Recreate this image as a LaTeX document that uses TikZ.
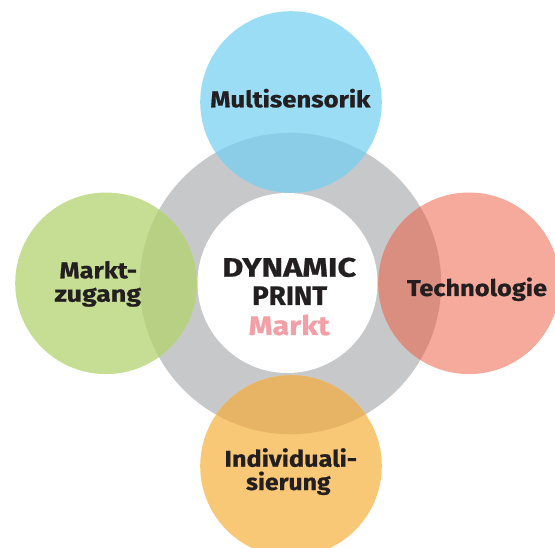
\documentclass[tikz,border=0pt]{standalone}
\usepackage{graphicx}
\usepackage{fontspec}
\setmainfont{Fira Sans}[BoldFeatures={FakeBold=0.6}]
\definecolor{ringgray}{HTML}{C7C8CA}
\definecolor{cblue}{HTML}{9CDDF6}
\definecolor{oblue}{HTML}{8BCDE6}
\definecolor{cgreen}{HTML}{C6DE94}
\definecolor{ogreen}{HTML}{B7D083}
\definecolor{cred}{HTML}{F6AA9C}
\definecolor{ored}{HTML}{D98E80}
\definecolor{corange}{HTML}{F9C877}
\definecolor{oorange}{HTML}{E6B464}
\definecolor{txt}{HTML}{231F20}
\definecolor{pinktxt}{HTML}{F49FA6}
\newcommand\fitw[2]{\resizebox{#1}{\height}{#2}}
\tikzset{
  lbl/.style={anchor=base, text=txt, inner sep=0pt, font=\bfseries\fontsize{22.8}{24}\selectfont},
  ctr/.style={anchor=base, text=txt, inner sep=0pt, font=\bfseries\fontsize{26.8}{28}\selectfont}
}
\begin{document}
\begin{tikzpicture}[x=1pt,y=-1pt]
\useasboundingbox (0,0) rectangle (555,548);
\clip (0,0) rectangle (555,548);
\coordinate (ringc) at (290.5,283.5);
\coordinate (whitec) at (287.5,283);
\coordinate (topc) at (291,102);
\coordinate (leftc) at (106,283.3);
\coordinate (rightc) at (469,283.3);
\coordinate (botc) at (291,466);
% ring
\fill[ringgray] (ringc) circle[radius=150.7pt];
% circles with overlaps
\foreach \c/\f/\o in {topc/cblue/oblue, leftc/cgreen/ogreen, rightc/cred/ored, botc/corange/oorange}{
  \fill[\f] (\c) circle[radius=90.8pt];
  \begin{scope}
    \clip (\c) circle[radius=90.8pt];
    \fill[\o] (ringc) circle[radius=150.7pt];
  \end{scope}
}
\fill[white] (whitec) circle[radius=90pt];
% labels
\node[lbl] (multi) at (290.3,107.3) {\fitw{160pt}{Multisensorik}};
\node[lbl] (tech) at (477,296) {\fitw{140pt}{Technologie}};
\node[lbl] (mz1) at (98.3,278.3) {\fitw{77.5pt}{Markt-}};
\node[lbl] (mz2) at (97.8,301.7) {\fitw{86.5pt}{zugang}};
\node[lbl] (ind1) at (290.8,466.7) {\fitw{132.5pt}{Individuali-}};
\node[lbl] (ind2) at (288.3,490) {\fitw{84.5pt}{sierung}};
\node[ctr] (dyn) at (289.2,276.7) {\fitw{134pt}{DYNAMIC}};
\node[ctr] (print) at (289.7,305) {\fitw{75pt}{PRINT}};
\node[ctr, text=pinktxt] (markt) at (289.2,335) {\fitw{81pt}{Markt}};
\end{tikzpicture}
\end{document}
